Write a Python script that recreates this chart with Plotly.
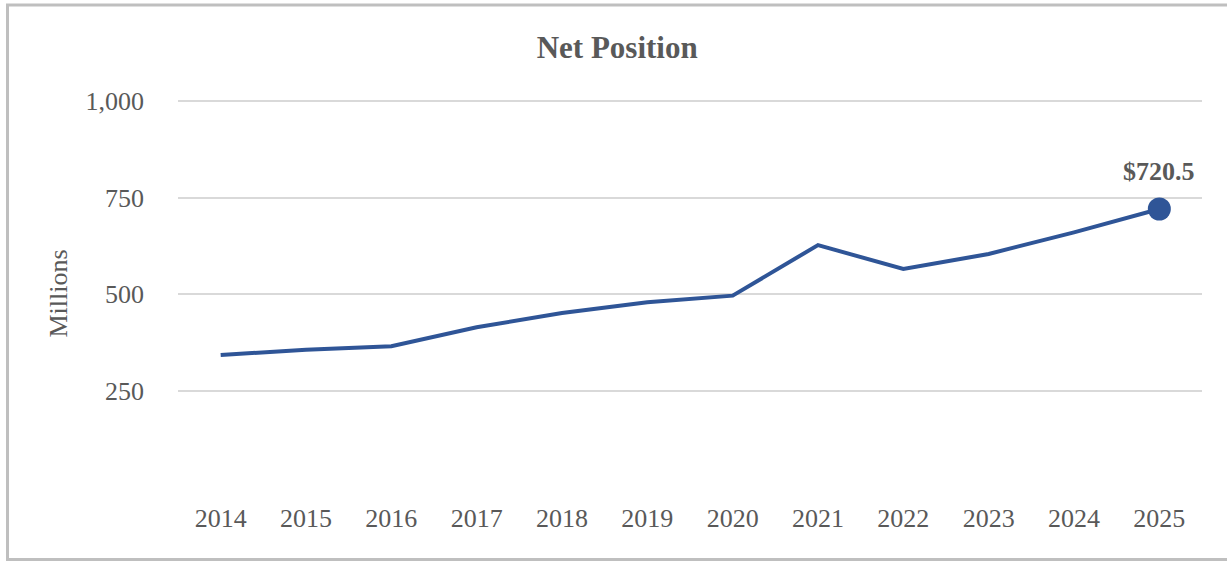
import plotly.graph_objects as go

years = ["2014", "2015", "2016", "2017", "2018", "2019", "2020", "2021", "2022", "2023", "2024", "2025"]
net_position = [342, 356, 365, 414, 451, 479, 496, 627, 565, 604, 660, 720.5]
y_ticks = [250, 500, 750, 1000]
y_tick_text = ["250", "500", "750", "1,000"]
last_label = "&#36;720.5"

W, H = 1227, 561
L, R, T, B = 178, 25, 100, 74
PW, PH = W - L - R, H - T - B

def px_x(px):
    return (px - L) / PW

def px_y(py):
    return 1 - (py - T) / PH

FONT = "Liberation Serif, Times New Roman, serif"
GRAY = "#595959"
LINE = "#2F5597"

fig = go.Figure()
fig.add_trace(go.Scatter(
    x=years, y=net_position, mode="lines",
    line=dict(color=LINE, width=4), hoverinfo="x+y", showlegend=False,
))
fig.add_trace(go.Scatter(
    x=[years[-1]], y=[net_position[-1]], mode="markers",
    marker=dict(color=LINE, size=23), showlegend=False,
))
fig.add_annotation(
    x=len(years) - 1, y=net_position[-1], text="<b>" + last_label + "</b>",
    showarrow=False, yshift=38, font=dict(family=FONT, size=26, color=GRAY),
)

fig.update_layout(
    width=W, height=H,
    margin=dict(l=L, r=R, t=T, b=B),
    paper_bgcolor="white", plot_bgcolor="white",
    font=dict(family=FONT, color=GRAY, size=26),
    title=dict(text="<b>Net Position</b>", x=0.503, xanchor="center",
               y=1 - 47 / H, yanchor="middle", yref="container",
               font=dict(family=FONT, size=31, color=GRAY)),
    xaxis=dict(type="category", range=[-0.5, len(years) - 0.5], showgrid=False,
               showline=False, zeroline=False, ticks="", ticklabelstandoff=13,
               tickfont=dict(family=FONT, size=26, color=GRAY)),
    yaxis=dict(range=[0, 1003], tickvals=y_ticks, ticktext=y_tick_text,
               showgrid=True, gridcolor="#D9D9D9", gridwidth=2, zeroline=False,
               showline=False, ticks="", ticklabelstandoff=33,
               tickfont=dict(family=FONT, size=26, color=GRAY),
               title=dict(text="Millions", standoff=10,
                          font=dict(family=FONT, size=26, color=GRAY))),
)

# outer frame: top, left and bottom edges (right edge is cropped in the reference)
frame = dict(type="line", xref="paper", yref="paper",
             line=dict(color="#BFBFBF", width=3), layer="below")
fig.add_shape(x0=px_x(6), x1=px_x(1227), y0=px_y(5), y1=px_y(5), **frame)
fig.add_shape(x0=px_x(7.5), x1=px_x(7.5), y0=px_y(5), y1=px_y(559.5), **frame)
fig.add_shape(x0=px_x(6), x1=px_x(1227), y0=px_y(559.5), y1=px_y(559.5), **frame)

fig.write_html("out.html", config={"displayModeBar": False},
               post_script="document.body.style.margin='0';")
